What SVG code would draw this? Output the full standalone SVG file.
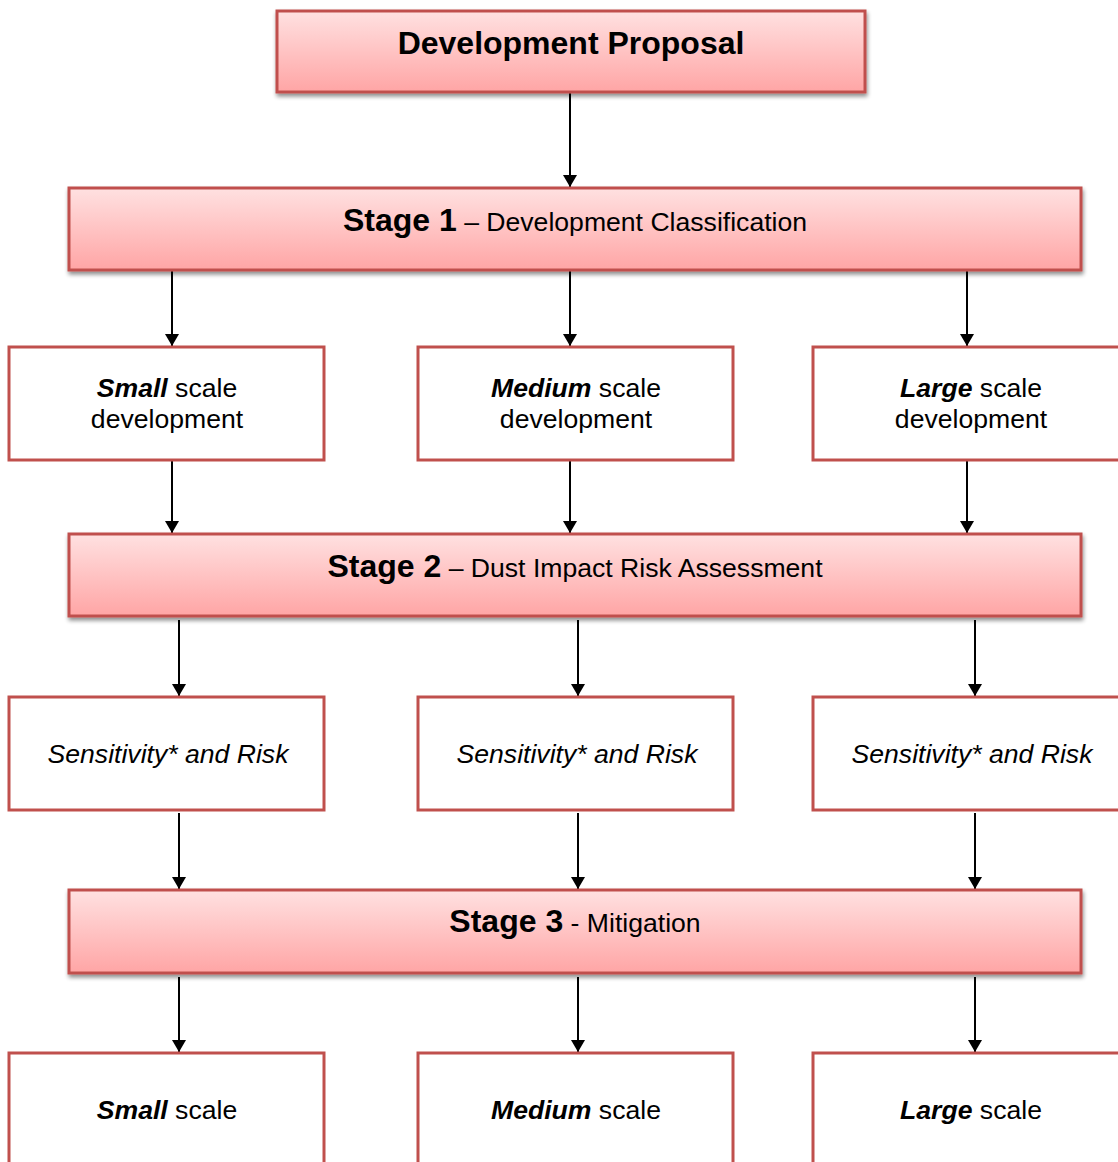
<svg xmlns="http://www.w3.org/2000/svg" width="1118" height="1162" viewBox="0 0 1118 1162">
<style>
.stage{fill:url(#g);stroke:#c0504d;stroke-width:3;filter:url(#sh)}
.box{fill:#fff;stroke:#c0504d;stroke-width:3}
text{font-family:"Liberation Sans",Arial,sans-serif;fill:#000;text-anchor:middle}
.t{font-size:26.6px}
.b{font-weight:bold}
.h{font-size:32px;font-weight:bold}
.i{font-style:italic}
.c line{stroke:#000;stroke-width:2;marker-end:url(#a)}
</style>
<defs>
<linearGradient id="g" x1="0" y1="0" x2="0" y2="1">
<stop offset="0" stop-color="#ffe1e1"/>
<stop offset="1" stop-color="#ffa5a5"/>
</linearGradient>
<filter id="sh" x="-5%" y="-20%" width="110%" height="150%">
<feGaussianBlur in="SourceAlpha" stdDeviation="2"/>
<feOffset dx="1" dy="3"/>
<feComponentTransfer><feFuncA type="linear" slope="0.45"/></feComponentTransfer>
<feMerge><feMergeNode/><feMergeNode in="SourceGraphic"/></feMerge>
</filter>
<marker id="a" markerWidth="12" markerHeight="14" refX="12" refY="7" orient="auto" markerUnits="userSpaceOnUse">
<path d="M0,0 L12,7 L0,14 Z" fill="#000"/>
</marker>
</defs>
<g class="c" id="connectors">
<line x1="570" y1="93" x2="570" y2="187"/>
<line x1="172" y1="271" x2="172" y2="346"/>
<line x1="570" y1="271" x2="570" y2="346"/>
<line x1="967" y1="271" x2="967" y2="346"/>
<line x1="172" y1="461" x2="172" y2="533"/>
<line x1="570" y1="461" x2="570" y2="533"/>
<line x1="967" y1="461" x2="967" y2="533"/>
<line x1="179" y1="620" x2="179" y2="696"/>
<line x1="578" y1="620" x2="578" y2="696"/>
<line x1="975" y1="620" x2="975" y2="696"/>
<line x1="179" y1="813" x2="179" y2="889"/>
<line x1="578" y1="813" x2="578" y2="889"/>
<line x1="975" y1="813" x2="975" y2="889"/>
<line x1="179" y1="977" x2="179" y2="1052"/>
<line x1="578" y1="977" x2="578" y2="1052"/>
<line x1="975" y1="977" x2="975" y2="1052"/>
</g>
<g id="proposal">
<rect class="stage" x="277" y="11" width="588" height="81"/>
<text class="h" x="571" y="54">Development Proposal</text>
</g>
<g id="stage1">
<rect class="stage" x="69" y="188" width="1012" height="82"/>
<text x="575" y="231"><tspan class="h">Stage 1</tspan><tspan class="t"> – Development Classification</tspan></text>
</g>
<g id="small1">
<rect class="box" x="9" y="347" width="315" height="113"/>
<text class="t" x="167" y="397"><tspan class="b i">Small</tspan> scale</text>
<text class="t" x="167" y="428">development</text>
</g>
<g id="medium1">
<rect class="box" x="418" y="347" width="315" height="113"/>
<text class="t" x="576" y="397"><tspan class="b i">Medium</tspan> scale</text>
<text class="t" x="576" y="428">development</text>
</g>
<g id="large1">
<rect class="box" x="813" y="347" width="320" height="113"/>
<text class="t" x="971" y="397"><tspan class="b i">Large</tspan> scale</text>
<text class="t" x="971" y="428">development</text>
</g>
<g id="stage2">
<rect class="stage" x="69" y="534" width="1012" height="82"/>
<text x="575" y="577"><tspan class="h">Stage 2</tspan><tspan class="t"> – Dust Impact Risk Assessment</tspan></text>
</g>
<g id="sens1">
<rect class="box" x="9" y="697" width="315" height="113"/>
<text class="t i" x="168" y="763">Sensitivity* and Risk</text>
</g>
<g id="sens2">
<rect class="box" x="418" y="697" width="315" height="113"/>
<text class="t i" x="577" y="763">Sensitivity* and Risk</text>
</g>
<g id="sens3">
<rect class="box" x="813" y="697" width="320" height="113"/>
<text class="t i" x="972" y="763">Sensitivity* and Risk</text>
</g>
<g id="stage3">
<rect class="stage" x="69" y="890" width="1012" height="83"/>
<text x="575" y="932"><tspan class="h">Stage 3</tspan><tspan class="t"> - Mitigation</tspan></text>
</g>
<g id="small3">
<rect class="box" x="9" y="1053" width="315" height="130"/>
<text class="t" x="167" y="1119"><tspan class="b i">Small</tspan> scale</text>
</g>
<g id="medium3">
<rect class="box" x="418" y="1053" width="315" height="130"/>
<text class="t" x="576" y="1119"><tspan class="b i">Medium</tspan> scale</text>
</g>
<g id="large3">
<rect class="box" x="813" y="1053" width="320" height="130"/>
<text class="t" x="971" y="1119"><tspan class="b i">Large</tspan> scale</text>
</g>
</svg>
